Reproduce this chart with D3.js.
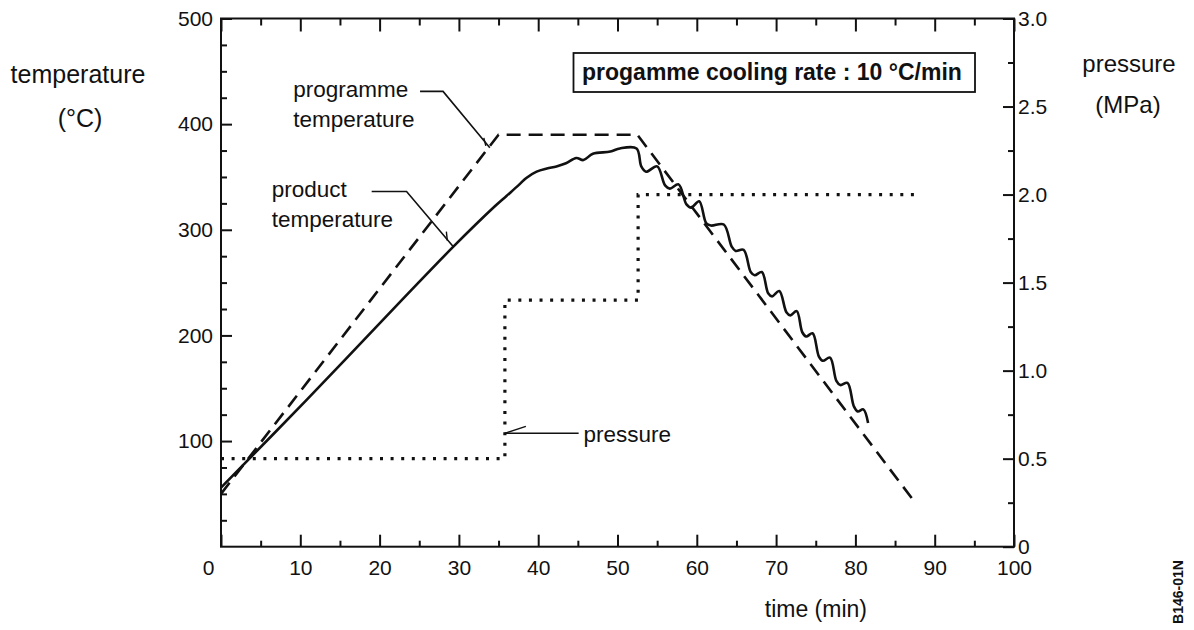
<!DOCTYPE html>
<html>
<head>
<meta charset="utf-8">
<script src="https://cdn.jsdelivr.net/npm/d3@7"></script>
<style>
  html, body { margin: 0; padding: 0; background: #fff; }
  svg { display: block; font-family: "Liberation Sans", Arial, Helvetica, sans-serif; }
  .axis text { font-size: 21px; fill: #111; }
  .axis line { stroke: #111; stroke-width: 2; }
  .axis path { display: none; }
</style>
</head>
<body>
<svg id="chart" width="1194" height="630"></svg>
<script>
// ---- data -------------------------------------------------------------
// programme (set-point) temperature, °C
const progTime = [0, 35, 52.5, 87.3];
const progTemp = [50, 390, 390, 44];

// measured product temperature, °C
const prodTime = [0, 10.8, 23, 29.3, 34.5, 36, 37.5, 38.5, 39.8, 41.1, 42.3, 43.5, 44.8, 45.7, 46.9, 49.1, 50.3, 52.4,
  53.0, 53.6, 55.0, 56.0, 56.6, 57.7, 58.7, 59.3, 60.3, 61.2, 61.8, 63.4, 64.4, 64.9, 65.9, 66.8, 67.3, 68.2,
  69.0, 69.5, 70.4, 71.3, 71.8, 72.6, 73.3, 73.8, 74.6, 75.4, 75.9, 76.8, 77.6, 78.1, 79.0, 79.8, 80.3, 81.0, 81.6];
const prodTemp = [56, 139, 235, 284, 322, 332, 342, 349, 355, 358, 360, 363, 368, 366, 372, 374, 377, 377,
  360, 355, 360, 342, 339, 343, 324, 321, 327, 306, 304, 305, 284, 280, 281, 260, 257, 260,
  240, 237, 242, 222, 219, 223, 203, 199, 202, 180, 176, 179, 157, 153, 155, 133, 128, 130, 117];

// pressure, MPa (stepped)
const presTime = [0, 35.8, 35.8, 52.6, 52.6, 87.5];
const presVal  = [0.5, 0.5, 1.4, 1.4, 2.0, 2.0];

// axis ticks
const timeTicks = [0, 10, 20, 30, 40, 50, 60, 70, 80, 90, 100];
const timeMinor = [5, 15, 25, 35, 45, 55, 65, 75, 85, 95];
const tempTicks = [100, 200, 300, 400, 500];
const tempMinor = [25, 50, 75, 125, 150, 175, 225, 250, 275, 325, 350, 375, 425, 450, 475];
const presTicks = [0, 0.5, 1.0, 1.5, 2.0, 2.5, 3.0];
const presMinor = [0.25, 0.75, 1.25, 1.75, 2.25, 2.75];

// ---- layout -----------------------------------------------------------
const svg = d3.select("#chart");
const L = 221, R = 1014, T = 18.5, B = 546.7;

const x = d3.scaleLinear().domain([0, 100]).range([L, R]);
const yT = d3.scaleLinear().domain([0, 500]).range([B, T]);
const yP = d3.scaleLinear().domain([0, 3]).range([B, T]);

svg.append("rect").attr("width", 1194).attr("height", 630).attr("fill", "#fff");

// ---- axes (ticks point inward) -----------------------------------------
const gx = svg.append("g").attr("class", "axis").attr("transform", `translate(0,${B})`);
gx.call(d3.axisBottom(x).tickValues(timeTicks).tickSize(-12).tickPadding(13).tickFormat(d3.format("d")));
gx.append("g").call(d3.axisBottom(x).tickValues(timeMinor).tickSize(-6).tickFormat(""));
gx.selectAll(".tick text").filter(d => d === 0).attr("dx", -13);

const gt = svg.append("g").attr("class", "axis").attr("transform", `translate(0,${T})`);
gt.call(d3.axisTop(x).tickValues(timeTicks).tickSize(-13).tickFormat(""));
gt.append("g").call(d3.axisTop(x).tickValues(timeMinor).tickSize(-7).tickFormat(""));

const gl = svg.append("g").attr("class", "axis").attr("transform", `translate(${L},0)`);
gl.call(d3.axisLeft(yT).tickValues(tempTicks).tickSize(-11).tickPadding(8).tickFormat(d3.format("d")));
gl.append("g").call(d3.axisLeft(yT).tickValues(tempMinor).tickSize(-6).tickFormat(""));

const gr = svg.append("g").attr("class", "axis").attr("transform", `translate(${R},0)`);
gr.call(d3.axisRight(yP).tickValues(presTicks).tickSize(-11).tickPadding(4)
  .tickFormat(d => d === 0 ? "0" : d3.format(".1f")(d)));
gr.append("g").call(d3.axisRight(yP).tickValues(presMinor).tickSize(-6).tickFormat(""));

// plot frame
svg.append("rect")
  .attr("x", L).attr("y", T).attr("width", R - L).attr("height", B - T)
  .attr("fill", "none").attr("stroke", "#111").attr("stroke-width", 2);

// ---- series -------------------------------------------------------------
const prog = progTime.map((t, i) => [t, progTemp[i]]);
const prod = prodTime.map((t, i) => [t, prodTemp[i]]);
const pres = presTime.map((t, i) => [t, presVal[i]]);

svg.append("path")
  .attr("d", d3.line().x(d => x(d[0])).y(d => yP(d[1]))(pres))
  .attr("fill", "none").attr("stroke", "#111").attr("stroke-width", 3.2)
  .attr("stroke-dasharray", "3,7.6");

svg.append("path")
  .attr("d", d3.line().x(d => x(d[0])).y(d => yT(d[1]))(prog))
  .attr("fill", "none").attr("stroke", "#111").attr("stroke-width", 2.6)
  .attr("stroke-dasharray", "14,8");

svg.append("path")
  .attr("d", d3.line().curve(d3.curveCatmullRom.alpha(0.5)).x(d => x(d[0])).y(d => yT(d[1]))(prod))
  .attr("fill", "none").attr("stroke", "#111").attr("stroke-width", 2.6)
  .attr("stroke-linejoin", "round");

// ---- annotations --------------------------------------------------------
const labelFont = 22.5;

function leader(points, scaleY, barb) {
  const pts = points.map(p => [x(p[0]), scaleY(p[1])]);
  svg.append("path").attr("d", d3.line()(pts))
    .attr("fill", "none").attr("stroke", "#111").attr("stroke-width", 1.6);
  const e = pts[pts.length - 1];
  svg.append("line")
    .attr("x1", e[0] + barb[0]).attr("y1", e[1] + barb[1])
    .attr("x2", e[0] + barb[2]).attr("y2", e[1] + barb[3])
    .attr("stroke", "#111").attr("stroke-width", 1.4);
}

function label(lines, t, v, scaleY, lineGap) {
  const txt = svg.append("text")
    .attr("x", x(t)).attr("y", scaleY(v))
    .attr("font-size", labelFont).attr("fill", "#111");
  lines.forEach((s, i) => txt.append("tspan").attr("x", x(t)).attr("dy", i ? lineGap : 0).text(s));
}

label(["programme", "temperature"], 9.1, 426, yT, 30);
leader([[25.1, 431], [28.0, 431], [33.9, 377.6]], yT, [-6, -10, -4, -2]);

label(["product", "temperature"], 6.4, 331, yT, 30);
leader([[19.0, 336.2], [23.4, 336.2], [29.3, 284]], yT, [-7, -15, -6, -6]);

label(["pressure"], 45.7, 0.597, yP, 0);
leader([[45.1, 0.644], [35.8, 0.644]], yP, [0, 0, 21, -7]);

// cooling-rate note
const note = svg.append("g");
note.append("rect").attr("x", 573.5).attr("y", 53).attr("width", 401.5).attr("height", 39)
  .attr("fill", "#fff").attr("stroke", "#111").attr("stroke-width", 1.8);
note.append("text").attr("x", 582).attr("y", 80)
  .attr("font-size", 23).attr("font-weight", "bold").attr("fill", "#111")
  .text("progamme cooling rate : 10 °C/min");

// ---- axis titles --------------------------------------------------------
const titles = [
  { s: "temperature", x: 78, y: 83, a: "middle", f: 25 },
  { s: "(°C)", x: 80, y: 127, a: "middle", f: 25 },
  { s: "pressure", x: 1129, y: 72, a: "middle", f: 24 },
  { s: "(MPa)", x: 1128, y: 113, a: "middle", f: 24 },
  { s: "time (min)", x: 867, y: 617, a: "end", f: 23 }
];
titles.forEach(d => svg.append("text").attr("x", d.x).attr("y", d.y)
  .attr("text-anchor", d.a).attr("font-size", d.f).attr("fill", "#111").text(d.s));

svg.append("text")
  .attr("transform", "translate(1183,592) rotate(-90)")
  .attr("text-anchor", "middle").attr("font-size", 14).attr("font-weight", "bold").attr("fill", "#111")
  .text("B146-01N");
</script>
</body>
</html>
